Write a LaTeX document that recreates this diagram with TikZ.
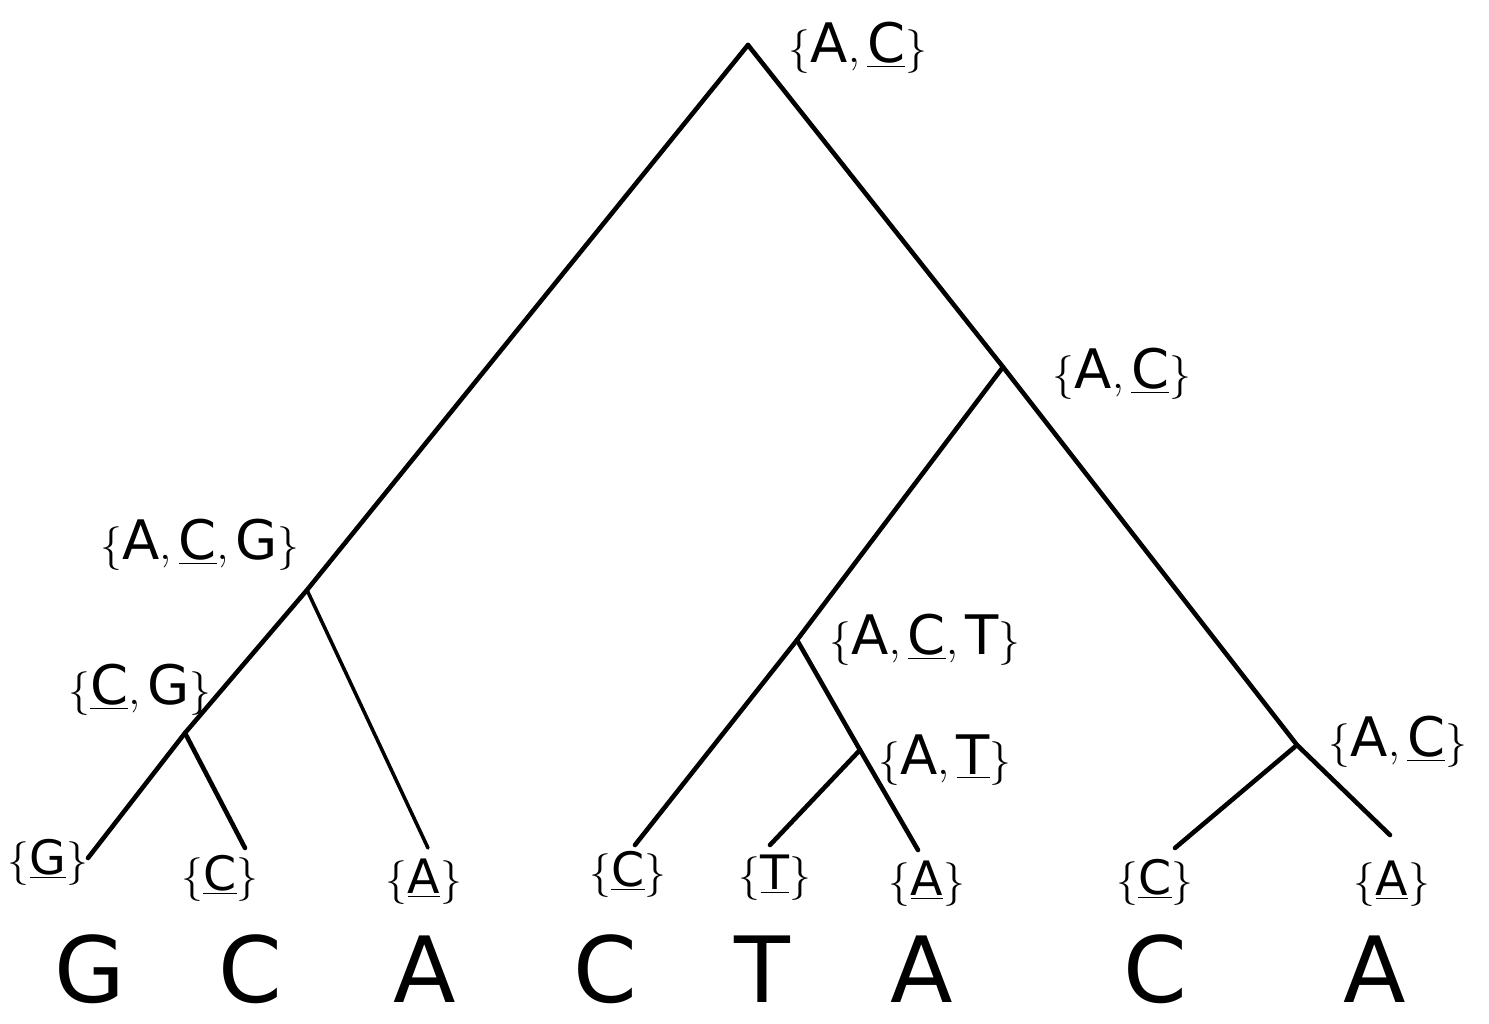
\documentclass[tikz,border=0pt]{standalone}
\usepackage{fontspec}
\setsansfont{DejaVu Sans}
\usepackage{tikz}
\usetikzlibrary{calc}

\begin{document}
\begin{tikzpicture}[x=0.02cm,y=-0.02cm,line cap=round,line join=round,
  rama/.style={line width=2.6pt},
  conj/.style={font=\sffamily\fontsize{31}{36}\selectfont},
  conjh/.style={font=\sffamily\fontsize{27}{32}\selectfont},
  hoja/.style={anchor=base,inner sep=0pt,font=\sffamily\fontsize{52}{52}\selectfont}]
  \useasboundingbox (0,0) rectangle (1489,1024);
  % vertices del arbol
  \coordinate (raiz) at (748,45);
  \coordinate (acg) at (307,590);
  \coordinate (cg) at (185,733);
  \coordinate (ac) at (1003,367);
  \coordinate (act) at (797,640);
  \coordinate (at) at (860,750);
  \coordinate (ac2) at (1297,745);
  \coordinate (h1) at (88,858);
  \coordinate (h2) at (245,848);
  \coordinate (h3) at (428,848);
  \coordinate (h4) at (635,845);
  \coordinate (h5) at (770,845);
  \coordinate (h6) at (918,850);
  \coordinate (h7) at (1175,848);
  \coordinate (h8) at (1390,835);
  \draw[rama] (raiz) -- (acg) -- (cg) -- (h1);
  \draw[rama] (cg) -- (h2);
  \draw[rama,line width=2pt] (acg) -- (h3);
  \draw[rama] (raiz) -- (ac) -- (act) -- (h4);
  \draw[rama] (act) -- (at) -- (h6);
  \draw[rama] (at) -- (h5);
  \draw[rama] (ac) -- (ac2) -- (h8);
  \draw[rama] (ac2) -- (h7);
  % conjuntos
  \node[conj] (lraiz) at (858,48) {$\{\mathsf{A},\underline{\mathsf{C}}\}$};
  \node[conj] (lac) at (1122,374) {$\{\mathsf{A},\underline{\mathsf{C}}\}$};
  \node[conj] (lacg) at (200,545) {$\{\mathsf{A},\underline{\mathsf{C}},\mathsf{G}\}$};
  \node[conj] (lcg) at (140,690) {$\{\underline{\mathsf{C}},\mathsf{G}\}$};
  \node[conj] (lact) at (925,640) {$\{\mathsf{A},\underline{\mathsf{C}},\mathsf{T}\}$};
  \node[conj] (lat) at (945,760) {$\{\mathsf{A},\underline{\mathsf{T}}\}$};
  \node[conj] (lac2) at (1398,742) {$\{\mathsf{A},\underline{\mathsf{C}}\}$};
  \node[conjh] (l1) at (48,862) {$\{\underline{\mathsf{G}}\}$};
  \node[conjh] (l2) at (220,878) {$\{\underline{\mathsf{C}}\}$};
  \node[conjh] (l3) at (424,882) {$\{\underline{\mathsf{A}}\}$};
  \node[conjh] (l4) at (628,874) {$\{\underline{\mathsf{C}}\}$};
  \node[conjh] (l5) at (775,878) {$\{\underline{\mathsf{T}}\}$};
  \node[conjh] (l6) at (927,884) {$\{\underline{\mathsf{A}}\}$};
  \node[conjh] (l7) at (1155,882) {$\{\underline{\mathsf{C}}\}$};
  \node[conjh] (l8) at (1392,884) {$\{\underline{\mathsf{A}}\}$};
  % secuencias
  \foreach \x/\b [count=\i] in {90/G,250/C,425/A,605/C,762/T,922/A,1155/C,1375/A}
    \node[hoja] (b\i) at (\x,1002) {\b};
\end{tikzpicture}
\end{document}
